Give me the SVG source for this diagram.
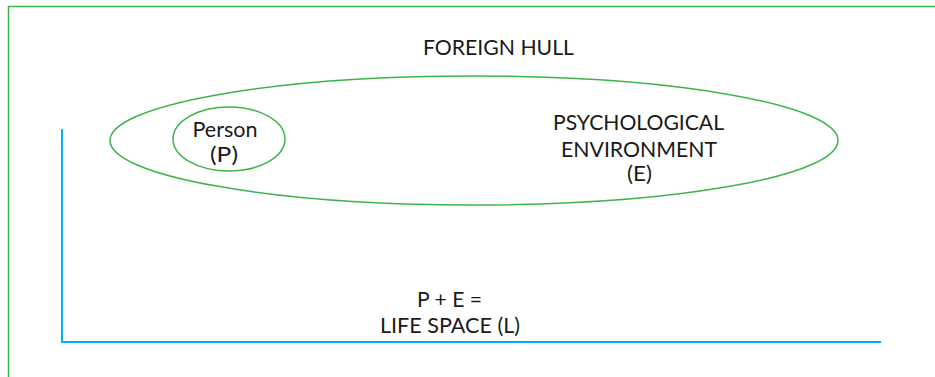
<svg xmlns="http://www.w3.org/2000/svg" width="935" height="377" viewBox="0 0 935 377">
<style>
.t{font-family:Lato,"Open Sans","Liberation Sans",sans-serif;font-size:20.5px;fill:#1a1a1a;text-anchor:middle}
.g{fill:none;stroke:#3cb44a;stroke-width:1.5}
.b{fill:none;stroke:#00b0f0;stroke-width:2}
</style>
<rect width="935" height="377" fill="#fff"/>
<g id="frame">
<path class="g" d="M8.5 377V6.5H935" stroke-width="2"/>
</g>
<g id="foreign-hull">
<text class="t" x="498.5" y="54.5" textLength="151" lengthAdjust="spacingAndGlyphs">FOREIGN HULL</text>
</g>
<g id="psychological-environment">
<ellipse class="g" cx="474" cy="140.5" rx="364" ry="64.5"/>
<text class="t" x="638.5" y="130" textLength="171" lengthAdjust="spacingAndGlyphs">PSYCHOLOGICAL</text>
<text class="t" x="639" y="156.5" textLength="156" lengthAdjust="spacingAndGlyphs">ENVIRONMENT</text>
<text class="t" x="639.5" y="181" textLength="25" lengthAdjust="spacingAndGlyphs">(E)</text>
</g>
<g id="person">
<ellipse class="g" cx="229" cy="139" rx="56" ry="32"/>
<text class="t" x="225" y="137" textLength="65" lengthAdjust="spacingAndGlyphs">Person</text>
<text class="t" x="224" y="162" textLength="28" lengthAdjust="spacingAndGlyphs">(P)</text>
</g>
<g id="connectors">
<path class="b" d="M62 129V342H881"/>
</g>
<g id="life-space">
<text class="t" x="449.5" y="307" textLength="65" lengthAdjust="spacingAndGlyphs">P + E =</text>
<text class="t" x="450" y="332.5" textLength="140" lengthAdjust="spacingAndGlyphs">LIFE SPACE (L)</text>
</g>
</svg>
